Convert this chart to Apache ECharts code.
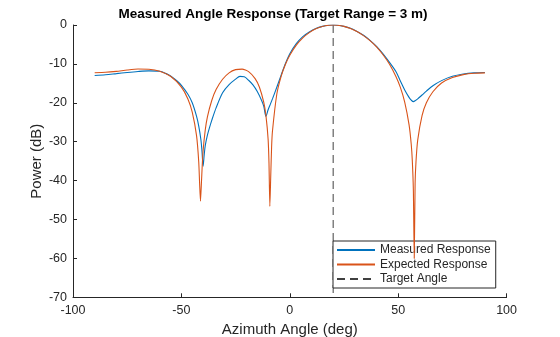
<!DOCTYPE html>
<html>
<head>
<meta charset="utf-8">
<script src="https://cdn.jsdelivr.net/npm/echarts@6/dist/echarts.min.js"></script>
<style>html,body{margin:0;padding:0;background:#fff;overflow:hidden}#c{width:560px;height:337px}</style>
</head>
<body>
<div id="c"></div>
<script>
// Measured response (blue)
var measuredAngle = [-90,-85,-80,-75,-70,-65,-60,-57,-55,-52,-50,-47,-45,-43,-42,-41,-40.5,-40,-39.5,-39,-38,-37,-36,-34,-31,-28,-25,-23,-21,-19,-17,-15,-13,-12,-11,-10,-9,-8,-6,-4,-2,0,3,6,9,12,15,18,20,22,25,28,31,34,37,40,43,46,49,51,53,55,56,57,58,59,61,63,66,70,75,80,85,90];
var measuredPower = [-13.0,-12.8,-12.5,-12.2,-11.95,-11.8,-11.9,-12.5,-13.1,-14.4,-15.5,-17.8,-20.0,-23.5,-26.0,-29.5,-32.5,-36.3,-33.5,-31.0,-28.3,-26.3,-24.5,-21.3,-17.4,-15.3,-13.9,-13.2,-13.3,-14.2,-15.4,-17.1,-19.4,-20.9,-23.5,-21.8,-20.4,-19.0,-16.0,-12.9,-9.9,-7.4,-4.8,-3.0,-1.8,-0.9,-0.35,-0.05,0,-0.05,-0.35,-0.85,-1.65,-2.65,-3.95,-5.5,-7.4,-9.6,-12.0,-14.4,-16.7,-18.6,-19.3,-19.7,-19.4,-19.0,-18.0,-17.0,-15.6,-14.3,-13.2,-12.6,-12.3,-12.2];
// Expected response (orange)
var expectedAngle = [-90,-85,-80,-75,-70,-65,-60,-55,-50,-47,-45,-43,-42,-41.6,-41.2,-40.8,-40.4,-40,-39,-38,-36,-34,-31,-28,-25,-22,-19,-16,-14,-12,-11,-10,-9.6,-9.2,-8.8,-8.4,-8,-6,-4,-2,0,3,6,9,12,15,18,20,22,25,28,31,34,37,40,43,46,49,51,53,55,56,56.5,57,57.4,57.8,58.2,59,61,63,66,70,75,80,85,90];
var expectedPower = [-12.26,-12.16,-11.91,-11.57,-11.33,-11.37,-11.88,-13.18,-15.96,-19.0,-22.4,-28.5,-35.2,-40.7,-45.3,-41.0,-36.2,-32.4,-27.0,-23.6,-19.4,-16.6,-13.95,-12.3,-11.47,-11.34,-12.0,-13.8,-16.0,-19.9,-23.3,-29.4,-35.5,-46.6,-39.0,-31.4,-27.3,-17.8,-13.2,-10.1,-7.76,-5.17,-3.3,-1.95,-0.99,-0.37,-0.06,0,-0.06,-0.35,-0.89,-1.68,-2.72,-4.03,-5.65,-7.65,-10.1,-13.3,-16.05,-19.8,-25.6,-30.6,-34.8,-42.6,-60,-40.7,-35.2,-29.6,-23.3,-20.0,-17.15,-14.9,-13.5,-12.75,-12.4,-12.3];
var targetAngle = 20;
var xTicks = [-100, -50, 0, 50, 100];
var yTicks = [-70, -60, -50, -40, -30, -20, -10, 0];
var seriesNames = ['Measured Response', 'Expected Response', 'Target Angle'];

function zip(a, b) { return a.map(function (v, i) { return [v, b[i]]; }); }
var FONT = '"Liberation Sans", Arial, Helvetica, sans-serif';
var AX = '#262626';
var yMin = yTicks[0], yMax = yTicks[yTicks.length - 1];

var chart = echarts.init(document.getElementById('c'), null, {renderer: 'canvas'});
chart.setOption({
  animation: false,
  backgroundColor: '#fff',
  textStyle: {fontFamily: FONT},
  title: {
    text: 'Measured Angle Response (Target Range = 3 m)',
    left: 268, top: 2, textAlign: 'center',
    textStyle: {fontFamily: FONT, fontSize: 13.5, fontWeight: 'bold', color: '#000'}
  },
  grid: {left: 73, right: 53.4, top: 25, bottom: 39.7, containLabel: false, outerBoundsMode: 'none'},
  legend: {
    orient: 'vertical', left: 333, top: 241,
    itemWidth: 38, itemHeight: 14, itemGap: 2.5,
    padding: [3, 5, 3, 3],
    borderColor: '#262626', borderWidth: 1, backgroundColor: '#fff',
    itemStyle: {opacity: 0},
    textStyle: {fontFamily: FONT, fontSize: 12, color: AX},
    data: seriesNames
  },
  xAxis: {
    type: 'value', min: xTicks[0], max: xTicks[xTicks.length - 1], interval: 50,
    name: 'Azimuth Angle (deg)', nameLocation: 'middle', nameGap: 25, nameMoveOverlap: false,
    nameTextStyle: {fontFamily: FONT, fontSize: 15, color: AX},
    axisLine: {onZero: false, lineStyle: {color: AX, width: 1}},
    axisTick: {inside: true, length: 4, lineStyle: {color: AX}},
    axisLabel: {fontFamily: FONT, fontSize: 12.5, color: AX, margin: 7},
    splitLine: {show: false}
  },
  yAxis: {
    type: 'value', min: yMin, max: yMax, interval: 10,
    name: 'Power (dB)', nameLocation: 'middle', nameGap: 29, nameMoveOverlap: false,
    nameTextStyle: {fontFamily: FONT, fontSize: 15, color: AX},
    axisLine: {onZero: false, lineStyle: {color: AX, width: 1}},
    axisTick: {inside: true, length: 4, lineStyle: {color: AX}},
    axisLabel: {fontFamily: FONT, fontSize: 12.5, color: AX, margin: 6},
    splitLine: {show: false}
  },
  series: [
    {name: seriesNames[0], type: 'line', data: zip(measuredAngle, measuredPower),
     symbol: 'none', smooth: 0.3, lineStyle: {color: '#0072BD', width: 1.1}, itemStyle: {color: '#0072BD'}, z: 3},
    {name: seriesNames[1], type: 'line', data: zip(expectedAngle, expectedPower),
     symbol: 'none', smooth: 0.2, lineStyle: {color: '#D95319', width: 1.1}, itemStyle: {color: '#D95319'}, z: 4},
    {name: seriesNames[2], type: 'line', data: [[targetAngle, yMax], [targetAngle, yMin]],
     symbol: 'none', lineStyle: {color: '#404040', width: 1, type: [8, 5]}, itemStyle: {color: '#404040'}, z: 2}
  ]
});
</script>
</body>
</html>
